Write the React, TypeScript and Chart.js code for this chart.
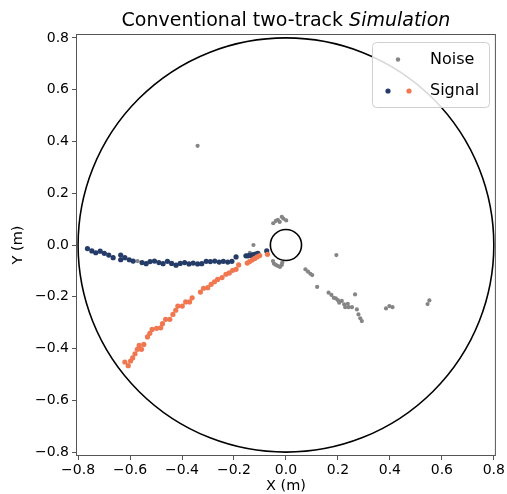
import React, { useEffect, useRef } from "react";
import { Chart, registerables } from "chart.js";

Chart.register(...registerables);

// ---------- data ----------
const noiseX = [
  -0.34, -0.571, -0.125, -0.139,
  -0.049, -0.039, -0.031, -0.016, -0.01, 0.001, -0.024,
  -0.05, -0.046, -0.039, -0.031, -0.023, -0.016, -0.014,
  0.075, 0.085, 0.094, 0.101, 0.12, 0.194,
  0.164, 0.175, 0.184, 0.192, 0.2, 0.205, 0.215, 0.224, 0.228, 0.241, 0.238, 0.254,
  0.266, 0.273, 0.279, 0.286, 0.292,
  0.385, 0.398, 0.41, 0.545, 0.552,
];
const noiseY = [
  0.383, -0.062, 0.0, -0.03,
  0.084, 0.093, 0.097, 0.109, 0.102, 0.095, 0.089,
  -0.062, -0.072, -0.077, -0.081, -0.085, -0.077, -0.068,
  -0.094, -0.103, -0.111, -0.116, -0.162, -0.039,
  -0.184, -0.193, -0.204, -0.206, -0.213, -0.223, -0.216, -0.229, -0.24, -0.24, -0.227, -0.24,
  -0.191, -0.249, -0.268, -0.283, -0.294,
  -0.245, -0.236, -0.24, -0.228, -0.214,
];

const signalAX = [
  -0.764, -0.747, -0.732, -0.715, -0.699, -0.682, -0.665, -0.636, -0.636, -0.62,
  -0.603, -0.588, -0.554, -0.538, -0.523, -0.506, -0.489, -0.473, -0.456, -0.44,
  -0.423, -0.407, -0.39, -0.373, -0.357, -0.34, -0.324, -0.307, -0.291, -0.274,
  -0.257, -0.241, -0.224, -0.208, -0.192, -0.154, -0.146, -0.138, -0.131, -0.124,
  -0.117, -0.108, -0.074,
];
const signalAY = [
  -0.014, -0.023, -0.03, -0.024, -0.032, -0.039, -0.049, -0.039, -0.057, -0.049,
  -0.057, -0.062, -0.068, -0.072, -0.064, -0.062, -0.068, -0.072, -0.063, -0.071,
  -0.078, -0.071, -0.068, -0.073, -0.07, -0.073, -0.072, -0.063, -0.064, -0.062,
  -0.066, -0.063, -0.066, -0.063, -0.046, -0.042, -0.042, -0.04, -0.039, -0.037,
  -0.035, -0.032, -0.023,
];

const signalBX = [
  -0.62, -0.607, -0.598, -0.59, -0.581, -0.572, -0.565, -0.556, -0.547, -0.533,
  -0.524, -0.515, -0.498, -0.482, -0.475, -0.463, -0.447, -0.435, -0.424, -0.416,
  -0.399, -0.386, -0.371, -0.361, -0.329, -0.317, -0.301, -0.288, -0.275, -0.263,
  -0.246, -0.231, -0.218, -0.205, -0.192, -0.182, -0.149, -0.14, -0.13, -0.12,
  -0.111, -0.101, -0.071,
];
const signalBY = [
  -0.452, -0.466, -0.448, -0.436, -0.42, -0.403, -0.388, -0.403, -0.384, -0.355,
  -0.341, -0.326, -0.322, -0.32, -0.304, -0.287, -0.287, -0.268, -0.252, -0.236,
  -0.236, -0.22, -0.22, -0.204, -0.182, -0.167, -0.165, -0.152, -0.142, -0.133,
  -0.126, -0.113, -0.108, -0.098, -0.094, -0.077, -0.07, -0.064, -0.058, -0.052,
  -0.046, -0.041, -0.036,
];

const axisTicks = [-0.8, -0.6, -0.4, -0.2, 0.0, 0.2, 0.4, 0.6, 0.8];
const circleRadii = [0.8, 0.06];

const FONT = "'DejaVu Sans', sans-serif";
const NOISE_COLOR = "#858585";
const BLUE = "#253b68";
const ORANGE = "#f0774f";

const fmt = (v: number) => Number(v).toFixed(1).replace("-", "\u2212");

const toPts = (xs: number[], ys: number[]) => xs.map((x, i) => ({ x, y: ys[i] }));

const decorPlugin = {
  id: "decor",
  beforeDatasetsDraw(chart: any) {
    const { ctx, chartArea, scales } = chart;
    const x = scales.x;
    const y = scales.y;
    ctx.save();
    ctx.beginPath();
    ctx.rect(chartArea.left, chartArea.top, chartArea.right - chartArea.left, chartArea.bottom - chartArea.top);
    ctx.clip();
    const cx = x.getPixelForValue(0);
    const cy = y.getPixelForValue(0);
    ctx.strokeStyle = "#000";
    ctx.lineWidth = 1.6;
    for (const r of circleRadii) {
      const rx = x.getPixelForValue(r) - cx;
      const ry = cy - y.getPixelForValue(r);
      ctx.beginPath();
      ctx.ellipse(cx, cy, rx, ry, 0, 0, Math.PI * 2);
      ctx.stroke();
    }
    ctx.restore();
  },
  afterDraw(chart: any) {
    const { ctx, chartArea } = chart;
    const { left, right, top, bottom } = chartArea;
    ctx.save();
    // frame
    ctx.strokeStyle = "#555";
    ctx.lineWidth = 1;
    ctx.strokeRect(left + 0.5, top + 0.5, right - left - 1, bottom - top - 1);

    // title
    const t1 = "Conventional two-track ";
    const t2 = "Simulation";
    ctx.fillStyle = "#000";
    ctx.textBaseline = "middle";
    ctx.font = `19px ${FONT}`;
    const w1 = ctx.measureText(t1).width;
    ctx.font = `italic 19px ${FONT}`;
    const w2 = ctx.measureText(t2).width;
    const cxT = (left + right) / 2;
    let sx = cxT - (w1 + w2) / 2;
    ctx.textAlign = "left";
    ctx.font = `19px ${FONT}`;
    ctx.fillText(t1, sx, 21);
    ctx.font = `italic 19px ${FONT}`;
    ctx.fillText(t2, sx + w1, 21);

    // axis titles
    ctx.font = `14.5px ${FONT}`;
    ctx.textAlign = "center";
    ctx.fillText("X (m)", (left + right) / 2, 486);
    ctx.save();
    ctx.translate(18, (top + bottom) / 2);
    ctx.rotate(-Math.PI / 2);
    ctx.fillText("Y (m)", 0, 0);
    ctx.restore();

    // legend
    const lx = 372.5, ly = 42.5, lw = 117, lh = 65, rr = 4;
    ctx.beginPath();
    ctx.moveTo(lx + rr, ly);
    ctx.arcTo(lx + lw, ly, lx + lw, ly + lh, rr);
    ctx.arcTo(lx + lw, ly + lh, lx, ly + lh, rr);
    ctx.arcTo(lx, ly + lh, lx, ly, rr);
    ctx.arcTo(lx, ly, lx + lw, ly, rr);
    ctx.closePath();
    ctx.fillStyle = "rgba(255,255,255,0.85)";
    ctx.fill();
    ctx.strokeStyle = "#d0d0d0";
    ctx.lineWidth = 1;
    ctx.stroke();

    const dot = (px: number, py: number, r: number, c: string) => {
      ctx.beginPath();
      ctx.arc(px, py, r, 0, Math.PI * 2);
      ctx.fillStyle = c;
      ctx.fill();
    };
    dot(398, 59.5, 2.2, NOISE_COLOR);
    dot(388, 91, 2.6, BLUE);
    dot(409, 91, 2.6, ORANGE);
    ctx.fillStyle = "#000";
    ctx.font = `16px ${FONT}`;
    ctx.textAlign = "left";
    ctx.textBaseline = "middle";
    ctx.fillText("Noise", 430, 59.5);
    ctx.fillText("Signal", 430, 91);
    ctx.restore();
  },
};

export default function App() {
  const ref = useRef<HTMLCanvasElement | null>(null);
  useEffect(() => {
    if (!ref.current) return;
    const tickFont = { family: FONT, size: 14 };
    const chart = new Chart(ref.current, {
      type: "scatter",
      data: {
        datasets: [
          {
            label: "Noise",
            data: toPts(noiseX, noiseY),
            backgroundColor: NOISE_COLOR,
            borderWidth: 0,
            pointRadius: 2.1,
            order: 3,
          },
          {
            label: "Signal",
            data: toPts(signalAX, signalAY),
            backgroundColor: BLUE,
            borderWidth: 0,
            pointRadius: 2.6,
            order: 2,
          },
          {
            label: "Signal 2",
            data: toPts(signalBX, signalBY),
            backgroundColor: ORANGE,
            borderWidth: 0,
            pointRadius: 2.6,
            order: 1,
          },
        ],
      },
      options: {
        animation: false,
        responsive: false,
        layout: { padding: { top: 34, right: 9, left: 0, bottom: 0 } },
        plugins: {
          legend: { display: false },
          tooltip: { enabled: false },
          title: { display: false },
        },
        scales: {
          x: {
            type: "linear",
            min: -0.808,
            max: 0.808,
            afterBuildTicks: (s: any) => {
              s.ticks = axisTicks.map((v) => ({ value: v }));
            },
            afterFit: (s: any) => {
              s.height = 38;
            },
            grid: { drawOnChartArea: false, drawTicks: true, tickLength: 4, color: "#555" },
            border: { display: false },
            ticks: {
              font: tickFont,
              color: "#000",
              padding: 2,
              maxRotation: 0,
              autoSkip: false,
              callback: (v: any) => fmt(v),
            },
          },
          y: {
            type: "linear",
            min: -0.815,
            max: 0.815,
            afterBuildTicks: (s: any) => {
              s.ticks = axisTicks.map((v) => ({ value: v }));
            },
            afterFit: (s: any) => {
              s.width = 76;
            },
            grid: { drawOnChartArea: false, drawTicks: true, tickLength: 4, color: "#555" },
            border: { display: false },
            ticks: {
              font: tickFont,
              color: "#000",
              padding: 3,
              autoSkip: false,
              callback: (v: any) => fmt(v),
            },
          },
        },
      },
      plugins: [decorPlugin],
    });
    return () => chart.destroy();
  }, []);
  return (
    <div style={{ position: "absolute", left: 0, top: 0, width: 507, height: 494, background: "#fff" }}>
      <canvas ref={ref} width={507} height={494} style={{ display: "block" }} />
    </div>
  );
}
